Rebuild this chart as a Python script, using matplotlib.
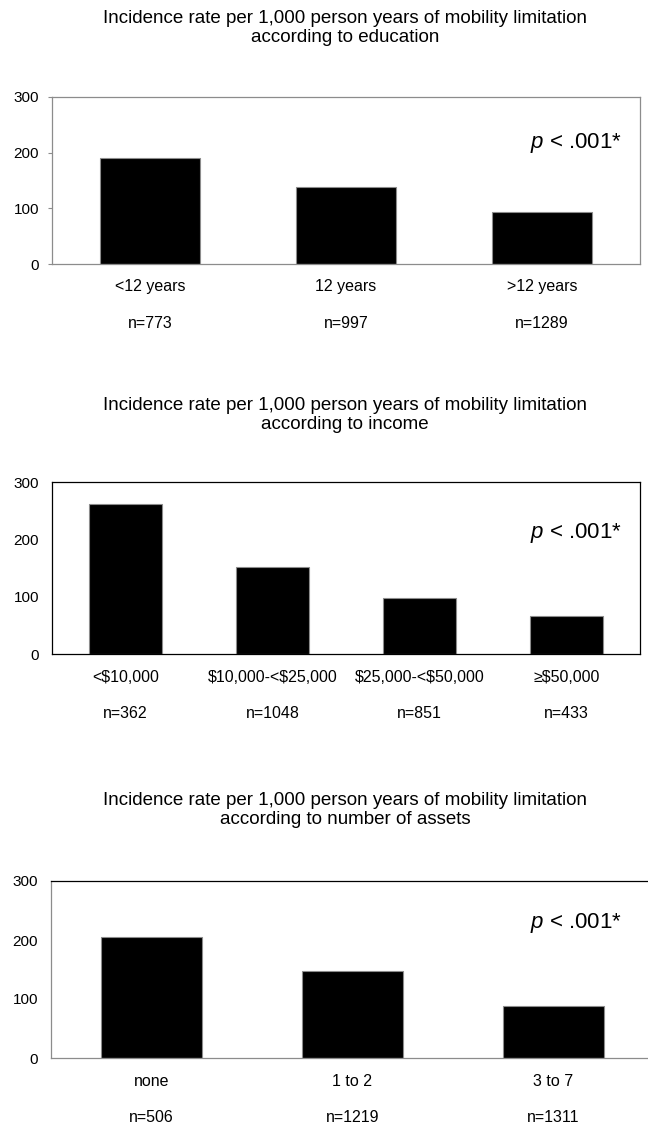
import matplotlib
matplotlib.use("Agg")
import matplotlib.pyplot as plt

plt.rcParams["font.family"] = ["Liberation Sans", "DejaVu Sans"]
plt.rcParams["mathtext.fontset"] = "custom"
plt.rcParams["mathtext.rm"] = "Liberation Sans"
plt.rcParams["mathtext.it"] = "Liberation Sans:italic"

# data
edu_cats = ["<12 years", "12 years", ">12 years"]
edu_rate = [190, 138, 93]
edu_n = [773, 997, 1289]

inc_cats = ["<$10,000", "$10,000-<$25,000", "$25,000-<$50,000", "≥$50,000"]
inc_rate = [262, 151, 97, 67]
inc_n = [362, 1048, 851, 433]

ast_cats = ["none", "1 to 2", "3 to 7"]
ast_rate = [205, 148, 88]
ast_n = [506, 1219, 1311]

title_1 = "Incidence rate per 1,000 person years of mobility limitation"
yticks = [0, 100, 200, 300]

W, H = 648, 1123
fig = plt.figure(figsize=(W / 100, H / 100), dpi=100)
GREY = "#8c8c8c"


def rect(l, r, t, b):
    return [l / W, 1 - b / H, (r - l) / W, (b - t) / H]


def panel(box, title_y, subtitle, cats, rate, n, width, spines, ticklen, pval_y):
    ax = fig.add_axes(rect(*box))
    x = list(range(len(cats)))
    ax.bar(x, rate, width=width, color="black", edgecolor=GREY, linewidth=0.8)
    ax.set_xlim(-0.5, len(cats) - 0.5)
    ax.set_ylim(0, 300)
    ax.set_yticks(yticks)
    ax.set_xticks([])
    ax.tick_params(axis="y", length=ticklen, color=GREY, width=0.8,
                   pad=13 * 0.72 - ticklen, labelsize=11)
    for side, col in spines.items():
        if col is None:
            ax.spines[side].set_visible(False)
        else:
            ax.spines[side].set_color(col)
            ax.spines[side].set_linewidth(0.9)
    for i, (c, k) in enumerate(zip(cats, n)):
        ax.annotate(c, (i, 0), xycoords=("data", "axes fraction"),
                    xytext=(0, -23), textcoords="offset pixels",
                    ha="center", va="center", fontsize=11.5, parse_math=False)
        ax.annotate(f"n={k}", (i, 0), xycoords=("data", "axes fraction"),
                    xytext=(0, -59), textcoords="offset pixels",
                    ha="center", va="center", fontsize=11.5)
    fig.text(345 / W, 1 - title_y / H, title_1 + "\n" + subtitle,
             ha="center", va="center", fontsize=13.5, linespacing=1.2)
    fig.text(622 / W, 1 - pval_y / H, r"$p$ < .001*", ha="right",
             va="center", fontsize=16)
    return ax


panel((52, 640, 97, 264), 28, "according to education",
      edu_cats, edu_rate, edu_n, 0.51,
      {"top": GREY, "right": GREY, "left": GREY, "bottom": GREY}, 3, 143)
panel((52, 640, 482, 654), 415, "according to income",
      inc_cats, inc_rate, inc_n, 0.5,
      {"top": "black", "right": "black", "left": "black", "bottom": "black"}, 0, 533)
panel((51, 654, 881, 1058), 810, "according to number of assets",
      ast_cats, ast_rate, ast_n, 0.5,
      {"top": "black", "right": None, "left": GREY, "bottom": GREY}, 0, 923)

fig.savefig("out.png", dpi=100)
